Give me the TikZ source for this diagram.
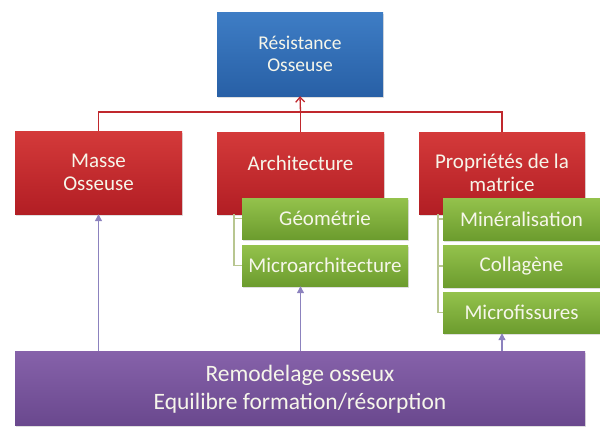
\documentclass[tikz,border=0pt]{standalone}
\usepackage{fontspec}
\setmainfont{Carlito}
\usetikzlibrary{arrows.meta,shadows,calc}
\definecolor{txt}{HTML}{F6F6EA}
\definecolor{redline}{HTML}{C0282D}
\definecolor{purpline}{HTML}{8C82BE}
\definecolor{greenline}{HTML}{B8C690}
\definecolor{blueT}{RGB}{62,125,197}
\definecolor{blueB}{RGB}{40,96,166}
\definecolor{redT}{RGB}{212,58,58}
\definecolor{redB}{RGB}{178,30,36}
\definecolor{greenT}{RGB}{148,194,76}
\definecolor{greenB}{RGB}{108,156,46}
\definecolor{purpT}{RGB}{134,98,170}
\definecolor{purpB}{RGB}{106,72,142}
\tikzset{
  base/.style={rectangle, inner sep=0pt, align=center, text=txt,
    font=\fontsize{21}{23}\selectfont,
    drop shadow={opacity=0.25, shadow xshift=1pt, shadow yshift=-2pt}},
  bluebox/.style={base, top color=blueT, bottom color=blueB, font=\fontsize{19.5}{22}\selectfont},
  redbox/.style={base, top color=redT, bottom color=redB},
  greenbox/.style={base, top color=greenT, bottom color=greenB},
  purplebox/.style={base, top color=purpT, bottom color=purpB, font=\fontsize{23.5}{28}\selectfont},
  redconn/.style={draw=redline, line width=1.3pt},
  purpconn/.style={draw=purpline, line width=1.1pt, -{Triangle[width=7pt,length=7pt]}},
  brack/.style={draw=greenline, line width=1.1pt}
}
\begin{document}
\begin{tikzpicture}[x=1pt,y=-1pt]
\useasboundingbox (0,0) rectangle (600,426);
% top
\node[bluebox, minimum width=166pt, minimum height=84pt, text depth=0pt] (top) at (300,54) {Résistance\\Osseuse};
% red boxes
\node[redbox, minimum width=167pt, minimum height=83pt] (masse) at (98.5,172.5) {Masse\\Osseuse};
\node[redbox, minimum width=167pt, minimum height=82pt, text depth=20pt] (arch) at (300.5,173) {Architecture};
\node[redbox, minimum width=166pt, minimum height=82pt, text depth=-3pt] (prop) at (502,173) {Propriétés de la\\matrice};
% red connectors
\coordinate (hub) at (300.5,112);
\draw[redconn] (masse.north) |- (hub) -| (prop.north);
\draw[redconn] (arch.north) -- (hub);
\draw[redconn, -{Straight Barb[width=9pt,length=5pt]}] (hub) -- (top.south);
% green brackets
\coordinate (ba) at (234,214);
\coordinate (bp) at (438,214);
% green boxes
\node[greenbox, minimum width=166pt, minimum height=41pt] (geo) at (325,218.5) {Géométrie};
\node[greenbox, minimum width=166pt, minimum height=41pt] (micro) at (325,265.5) {Microarchitecture};
\node[greenbox, minimum width=157pt, minimum height=42pt] (mine) at (521.5,219) {Minéralisation};
\node[greenbox, minimum width=157pt, minimum height=42pt] (coll) at (521.5,266) {Collagène};
\node[greenbox, minimum width=157pt, minimum height=41pt] (fiss) at (521.5,312.5) {Microfissures};
\draw[brack] (ba) |- (micro.west);
\draw[brack] (ba |- geo.west) -- (geo.west);
\draw[brack] (bp) |- (fiss.west);
\draw[brack] (bp |- mine.west) -- (mine.west);
\draw[brack] (bp |- coll.west) -- (coll.west);
% bottom
\node[purplebox, minimum width=570pt, minimum height=74pt, text depth=2pt] (remo) at (300,388) {Remodelage osseux\\Equilibre formation/résorption};
\draw[purpconn] (remo.north -| masse.south) -- (masse.south);
\draw[purpconn] (remo.north -| arch.south) -- (micro.south -| arch.south);
\draw[purpconn] (remo.north -| prop.south) -- (fiss.south -| prop.south);
\end{tikzpicture}
\end{document}
